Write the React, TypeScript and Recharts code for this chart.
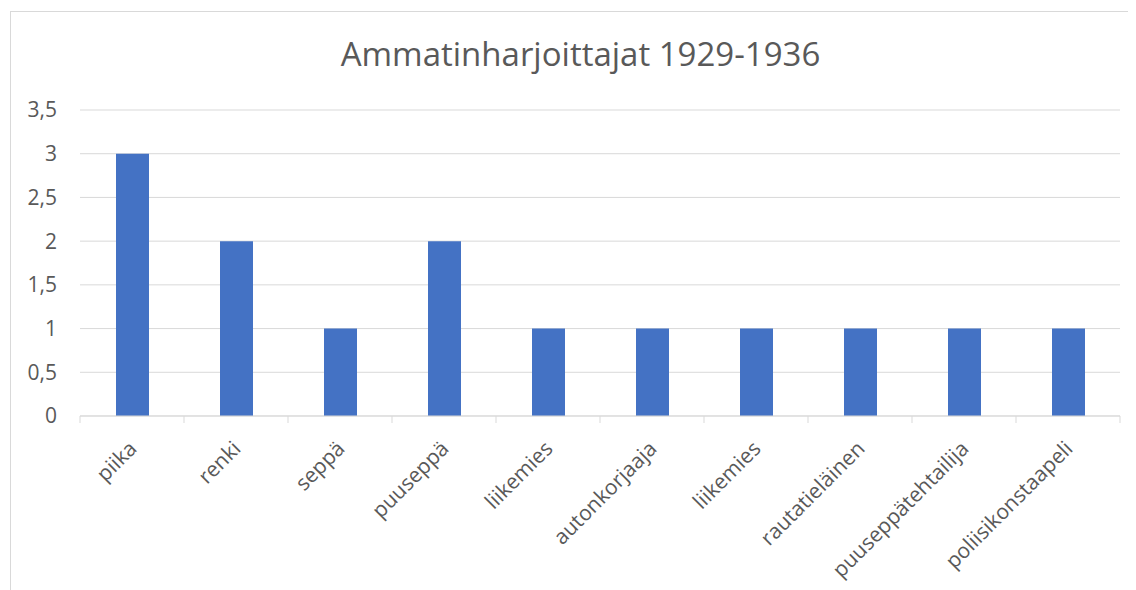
import React from "react";
import { BarChart, Bar, XAxis, YAxis, CartesianGrid } from "recharts";

const categories = [
  "piika",
  "renki",
  "seppä",
  "puuseppä",
  "liikemies",
  "autonkorjaaja",
  "liikemies",
  "rautatieläinen",
  "puuseppätehtailija",
  "poliisikonstaapeli",
];
const values = [3, 2, 1, 2, 1, 1, 1, 1, 1, 1];
const yTicks = [0, 0.5, 1, 1.5, 2, 2.5, 3, 3.5];
const title = "Ammatinharjoittajat 1929-1936";

const data = categories.map((name, i) => ({ name, value: values[i] }));

const FONT = "'Open Sans', sans-serif";
const TEXT = "#595959";
const GRID = "#d9d9d9";
const HALF_BAND = 52;

const XTick = (props: any) => {
  const { x, y, payload, index, visibleTicksCount } = props;
  const last = index === visibleTicksCount - 1;
  const tx = x + 6;
  const ty = y + 34;
  return (
    <g>
      <line x1={x - HALF_BAND} y1={y} x2={x - HALF_BAND} y2={y + 7} stroke={GRID} strokeWidth={1} />
      {last && <line x1={x + HALF_BAND} y1={y} x2={x + HALF_BAND} y2={y + 7} stroke={GRID} strokeWidth={1} />}
      <text
        x={tx}
        y={ty}
        textAnchor="end"
        fill={TEXT}
        fontSize={21}
        fontFamily={FONT}
        transform={`rotate(-45, ${tx}, ${ty})`}
      >
        {payload.value}
      </text>
    </g>
  );
};

export default function App() {
  return (
    <div
      style={{
        position: "relative",
        marginLeft: 2,
        marginTop: 3,
        width: 1126,
        height: 579,
        borderLeft: `1px solid ${GRID}`,
        borderTop: `1px solid ${GRID}`,
        background: "#fff",
      }}
    >
      <div
        style={{
          position: "absolute",
          left: 0,
          width: 1139,
          top: 20,
          textAlign: "center",
          fontFamily: FONT,
          fontSize: 33,
          color: TEXT,
          lineHeight: "44px",
        }}
      >
        {title}
      </div>
      <BarChart
        width={1125}
        height={578}
        data={data}
        margin={{ top: 98, right: 16, left: 0, bottom: 0 }}
      >
        <CartesianGrid vertical={false} stroke={GRID} strokeWidth={1} />
        <XAxis
          dataKey="name"
          tick={<XTick />}
          interval={0}
          tickLine={false}
          tickSize={0}
          tickMargin={0}
          axisLine={{ stroke: GRID }}
          height={174}
        />
        <YAxis
          domain={[0, 3.5]}
          ticks={yTicks}
          width={69}
          axisLine={false}
          tickLine={false}
          tickSize={0}
          tickMargin={23}
          tickFormatter={(v: number) => String(v).replace(".", ",")}
          tick={{ fill: TEXT, fontSize: 21, fontFamily: FONT }}
        />
        <Bar dataKey="value" fill="#4472c4" barSize={33} isAnimationActive={false} />
      </BarChart>
    </div>
  );
}
